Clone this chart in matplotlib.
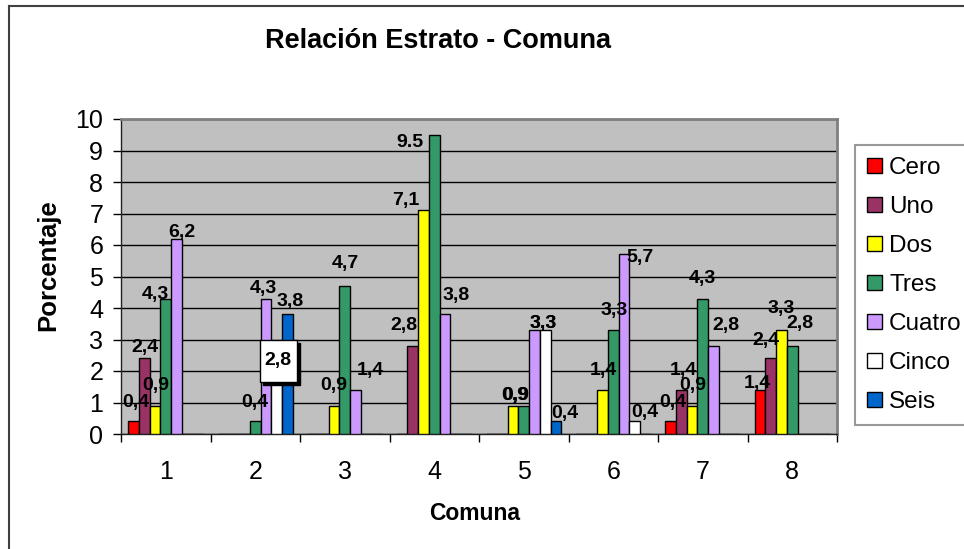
import numpy as np
import matplotlib.pyplot as plt
from matplotlib.patches import Patch, Rectangle
from matplotlib.lines import Line2D

plt.rcParams['font.family'] = ['Liberation Sans', 'DejaVu Sans']

# Porcentaje por estrato en cada comuna
comunas = ['1', '2', '3', '4', '5', '6', '7', '8']
estratos = ['Cero', 'Uno', 'Dos', 'Tres', 'Cuatro', 'Cinco', 'Seis']
cero = [0.4, 0, 0, 0, 0, 0, 0.4, 1.4]
uno = [2.4, 0, 0, 2.8, 0, 0, 1.4, 2.4]
dos = [0.9, 0, 0.9, 7.1, 0.9, 1.4, 0.9, 3.3]
tres = [4.3, 0.4, 4.7, 9.5, 0.9, 3.3, 4.3, 2.8]
cuatro = [6.2, 4.3, 1.4, 3.8, 3.3, 5.7, 2.8, 0]
cinco = [0, 2.8, 0, 0, 3.3, 0.4, 0, 0]
seis = [0, 3.8, 0, 0, 0.4, 0, 0, 0]

series = [cero, uno, dos, tres, cuatro, cinco, seis]
colores = ['#FF0000', '#993366', '#FFFF00', '#339966', '#CC99FF', '#FFFFFF', '#0066CC']

# etiquetas movidas a mano en el original (dx, dy en pixeles)
offsets = {
    (0, 0): (2, 14), (0, 1): (1, 6), (0, 2): (1, 16), (0, 3): (-10, 0), (0, 4): (5, 2),
    (1, 3): (0, 14), (1, 4): (-3, 6), (1, 6): (3, 8),
    (2, 2): (0, 16), (2, 3): (1, 18), (2, 4): (15, 15),
    (3, 1): (-9, 16), (3, 2): (-18, 5), (3, 3): (-24, -12), (3, 4): (11, 14),
    (4, 2): (2, 6), (4, 3): (-8, 6), (4, 4): (9, 2), (4, 5): (-2, 2), (4, 6): (9, 3),
    (5, 2): (1, 15), (5, 3): (1, 15), (5, 4): (16, -8), (5, 5): (10, 4),
    (6, 0): (2, 14), (6, 1): (2, 15), (6, 2): (1, 16), (6, 3): (0, 16), (6, 4): (12, 16),
    (7, 0): (-3, 2), (7, 1): (-5, 13), (7, 2): (0, 17), (7, 3): (8, 18),
}

fig = plt.figure(figsize=(9.64, 5.49), dpi=100)
ax = fig.add_axes([121 / 964, 1 - 434 / 549, 716 / 964, 315 / 549])
ax.set_facecolor('#C0C0C0')

x = np.arange(1, len(comunas) + 1)
w = 1 / 8.35
for s, (vals, col) in enumerate(zip(series, colores)):
    pos = x + (s - 3) * w
    ax.bar(pos, vals, width=w, color=col, edgecolor='black', linewidth=1, zorder=3)

ax.set_xlim(0.5, 8.5)
ax.set_ylim(0, 10)
fig.canvas.draw()

for s, vals in enumerate(series):
    for g, v in enumerate(vals):
        if v == 0:
            continue
        px = x[g] + (s - 3) * w
        txt = f'{v:.1f}'.replace('.', ',')
        if (g, s) == (3, 3):
            txt = '9.5'
        if (g, s) == (1, 5):
            # etiqueta con recuadro y sombra
            cx, cy = ax.transData.transform((px, v))
            bx, by = cx - 17, cy - 36
            fig.add_artist(Rectangle((bx + 3, by - 3), 37, 42, transform=None,
                                     facecolor='black', edgecolor='black', zorder=5))
            fig.add_artist(Rectangle((bx, by), 37, 42, transform=None,
                                     facecolor='white', edgecolor='black', lw=1, zorder=6))
            fig.text((bx + 18.5) / 964, (by + 21) / 549, txt, ha='center', va='center',
                     fontsize=14, fontweight='bold', zorder=7)
            continue
        dx, dy = offsets.get((g, s), (0, 15))
        ax.annotate(txt, (px, v), xytext=(dx, dy), textcoords='offset pixels',
                    ha='center', va='baseline', fontsize=14, fontweight='bold', zorder=4)

ax.set_yticks(range(0, 11))
ax.yaxis.grid(True, color='black', linewidth=1)
ax.set_axisbelow(True)
ax.tick_params(axis='y', length=5.8, width=1, pad=7, labelsize=18)

ax.set_xticks(np.arange(0.5, 9, 1))
ax.set_xticklabels([])
ax.set_xticks(x, minor=True)
ax.set_xticklabels(comunas, minor=True)
ax.tick_params(axis='x', which='major', length=5.8, width=1)
ax.tick_params(axis='x', which='minor', length=0, pad=19, labelsize=18)

for side in ['left', 'bottom']:
    ax.spines[side].set_color('#202020')
    ax.spines[side].set_linewidth(1)
for side in ['top', 'right']:
    ax.spines[side].set_color('#808080')
    ax.spines[side].set_linewidth(2)

fig.text(438 / 964, 1 - 48 / 549, 'Relación Estrato - Comuna', ha='center', va='baseline',
         fontsize=19.5, fontweight='bold')
fig.text(48 / 964, 1 - 265 / 549, 'Porcentaje', ha='center', va='center', rotation=90,
         fontsize=18.5, fontweight='bold')
fig.text(475 / 964, 1 - 514 / 549, 'Comuna', ha='center', va='center',
         fontsize=16.5, fontweight='bold')

handles = [Patch(facecolor=c, edgecolor='black', linewidth=1) for c in colores]
leg = fig.legend(handles, estratos, loc='upper left', bbox_to_anchor=(855 / 964, 1 - 145 / 549),
                 fontsize=17.5, frameon=True, fancybox=False, edgecolor='#808080',
                 handlelength=0.6, handleheight=0.6, handletextpad=0.3,
                 labelspacing=0.7, borderpad=0.5, borderaxespad=0)
leg.get_frame().set_linewidth(1.5)

fig.add_artist(Line2D([9 / 964, 9 / 964], [0, 1 - 6 / 549], color='#404040', lw=1.5))
fig.add_artist(Line2D([9 / 964, 1], [1 - 6 / 549, 1 - 6 / 549], color='#404040', lw=1.5))

fig.savefig('out.png', dpi=100)
